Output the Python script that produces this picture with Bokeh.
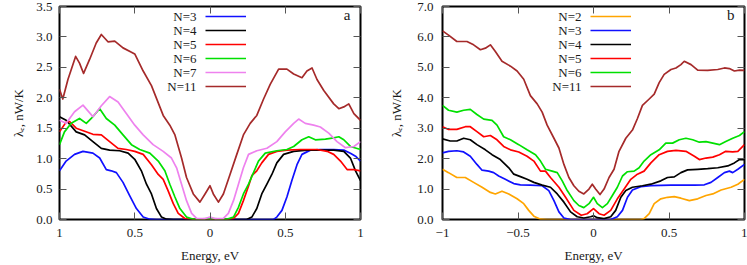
from bokeh.plotting import figure
from bokeh.models import (Range1d, FixedTicker, LinearAxis, Legend, LegendItem,
                          Label, Title, CustomJSTickFormatter, PrintfTickFormatter)
from bokeh.layouts import row
from bokeh.embed import file_html
from bokeh.resources import INLINE

FONT = "Liberation Serif"

# ---------------- panel a ----------------
names_a = ["N=3", "N=4", "N=5", "N=6", "N=7", "N=11"]
colors_a = ["#1010ff", "#000000", "#ff0000", "#00e000", "#ee82ee", "#a52a2a"]

e_a3 = [-1, -0.956, -0.9, -0.844, -0.778, -0.733, -0.689, -0.656, -0.622, -0.578,
        -0.533, -0.489, -0.444, -0.4, -0.356, 0.422, 0.444, 0.478, 0.511, 0.544,
        0.578, 0.611, 0.667, 0.733, 0.822, 0.889, 0.933, 0.967, 1.0]
l_a3 = [0.8, 0.96, 1.07, 1.12, 1.09, 1.01, 0.82, 0.8, 0.77, 0.61,
        0.39, 0.18, 0.04, 0.005, 0, 0, 0.04, 0.15, 0.37, 0.64,
        0.9, 1.07, 1.14, 1.15, 1.15, 1.14, 1.09, 1.04, 0.96]

e_a4 = [-1, -0.956, -0.889, -0.833, -0.778, -0.722, -0.667, -0.6, -0.544, -0.5,
        -0.456, -0.422, -0.389, -0.356, -0.322, -0.289, -0.244, 0.244, 0.278, 0.311,
        0.344, 0.378, 0.411, 0.444, 0.489, 0.556, 0.644, 0.733, 0.822, 0.889,
        0.933, 0.967, 1.0]
l_a4 = [1.69, 1.63, 1.44, 1.39, 1.28, 1.17, 1.14, 1.13, 1.09, 0.99,
        0.8, 0.58, 0.42, 0.18, 0.04, 0.005, 0, 0, 0.04, 0.18,
        0.42, 0.58, 0.74, 0.93, 1.07, 1.12, 1.14, 1.14, 1.14, 1.12,
        1.01, 0.8, 0.64]

e_a5 = [-1, -0.956, -0.933, -0.889, -0.833, -0.778, -0.722, -0.667, -0.611, -0.556,
        -0.5, -0.444, -0.389, -0.344, -0.311, -0.278, -0.244, -0.211, -0.167, -0.089,
        0.111, 0.156, 0.189, 0.222, 0.256, 0.278, 0.311, 0.344, 0.389, 0.444,
        0.511, 0.6, 0.711, 0.778, 0.822, 0.867, 0.911, 0.956, 1.0]
l_a5 = [1.44, 1.6, 1.61, 1.5, 1.45, 1.40, 1.39, 1.28, 1.17, 1.15,
        1.12, 1.07, 0.9, 0.74, 0.66, 0.47, 0.26, 0.1, 0.016, 0,
        0, 0.016, 0.1, 0.31, 0.55, 0.72, 0.8, 0.93, 1.07, 1.12,
        1.14, 1.15, 1.15, 1.12, 1.07, 0.96, 0.82, 0.82, 0.8]

e_a6 = [-1, -0.967, -0.922, -0.867, -0.822, -0.789, -0.733, -0.689, -0.633, -0.578,
        -0.522, -0.467, -0.4, -0.344, -0.3, -0.267, -0.233, -0.2, -0.156, -0.111,
        0, 0.111, 0.156, 0.189, 0.222, 0.256, 0.289, 0.322, 0.367, 0.444,
        0.511, 0.556, 0.611, 0.656, 0.7, 0.767, 0.822, 0.856, 0.889, 0.933, 1.0]
l_a6 = [1.23, 1.44, 1.58, 1.66, 1.58, 1.66, 1.82, 1.66, 1.55, 1.39,
        1.23, 1.15, 1.09, 0.96, 0.8, 0.58, 0.37, 0.18, 0.04, 0.005,
        0.016, 0.005, 0.04, 0.2, 0.42, 0.58, 0.77, 0.96, 1.09, 1.13,
        1.15, 1.2, 1.31, 1.36, 1.31, 1.32, 1.34, 1.36, 1.31, 1.2, 1.15]

e_a7 = [-1, -0.956, -0.9, -0.844, -0.778, -0.722, -0.667, -0.611, -0.556, -0.5,
        -0.444, -0.378, -0.311, -0.256, -0.222, -0.189, -0.156, -0.122, -0.089, -0.033,
        0, 0.033, 0.089, 0.122, 0.156, 0.189, 0.222, 0.256, 0.311, 0.378,
        0.444, 0.5, 0.556, 0.589, 0.633, 0.689, 0.733, 0.789, 0.844, 0.9,
        0.956, 1.0]
l_a7 = [1.63, 1.58, 1.77, 1.88, 1.69, 1.87, 2.02, 1.93, 1.74, 1.55,
        1.39, 1.23, 1.12, 1.01, 0.85, 0.58, 0.31, 0.10, 0.02, 0.016,
        0.04, 0.016, 0.02, 0.1, 0.31, 0.58, 0.85, 1.07, 1.13, 1.17,
        1.28, 1.44, 1.58, 1.65, 1.58, 1.55, 1.52, 1.42, 1.28, 1.18,
        1.2, 1.28]

e_a11 = [-1, -0.978, -0.944, -0.893, -0.867, -0.84, -0.8, -0.756, -0.722, -0.678,
         -0.633, -0.578, -0.522, -0.5, -0.444, -0.389, -0.311, -0.267, -0.233, -0.189,
         -0.156, -0.111, -0.067, -0.033, 0, 0.022, 0.056, 0.089, 0.133, 0.178,
         0.222, 0.267, 0.311, 0.356, 0.4, 0.456, 0.511, 0.556, 0.611, 0.644,
         0.678, 0.711, 0.756, 0.822, 0.856, 0.889, 0.922, 0.956, 1.0]
l_a11 = [2.14, 1.98, 2.3, 2.68, 2.57, 2.40, 2.63, 2.9, 3.04, 2.92,
         2.93, 2.82, 2.75, 2.72, 2.44, 2.2, 1.71, 1.55, 1.39, 1.01,
         0.69, 0.42, 0.285, 0.42, 0.555, 0.42, 0.285, 0.42, 0.74, 1.07,
         1.39, 1.58, 1.71, 1.98, 2.22, 2.47, 2.47, 2.39, 2.33, 2.44,
         2.49, 2.3, 2.12, 1.9, 1.82, 1.85, 1.9, 1.74, 1.63]

# ---------------- panel b ----------------
names_b = ["N=2", "N=3", "N=4", "N=5", "N=6", "N=11"]
colors_b = ["#ffa500", "#1010ff", "#000000", "#ff0000", "#00e000", "#a52a2a"]

e_b2 = [-1, -0.96, -0.905, -0.849, -0.794, -0.738, -0.683, -0.65, -0.606, -0.561,
        -0.506, -0.462, -0.429, -0.395, -0.351, -0.307, 0.313, 0.335, 0.369, 0.402,
        0.446, 0.49, 0.535, 0.579, 0.635, 0.69, 0.745, 0.79, 0.845, 0.911,
        0.956, 1.0]
l_b2 = [1.65, 1.54, 1.38, 1.38, 1.22, 1.06, 0.89, 0.84, 0.93, 0.84,
        0.68, 0.52, 0.3, 0.11, 0.01, 0, 0, 0.03, 0.19, 0.52,
        0.68, 0.73, 0.75, 0.7, 0.62, 0.68, 0.79, 0.84, 0.97, 1.06,
        1.16, 1.32]

e_b3 = [-1, -0.96, -0.905, -0.86, -0.816, -0.772, -0.738, -0.694, -0.661, -0.628,
        -0.584, -0.528, -0.484, -0.418, -0.34, -0.296, -0.262, -0.229, -0.196, -0.152,
        0.114, 0.158, 0.192, 0.225, 0.258, 0.313, 0.38, 0.513, 0.668, 0.734,
        0.778, 0.823, 0.867, 0.9, 0.922, 0.956, 1.0]
l_b3 = [2.19, 2.24, 2.26, 2.22, 2.08, 1.81, 1.62, 1.59, 1.54, 1.43,
        1.32, 1.18, 1.14, 1.13, 1.11, 0.95, 0.62, 0.25, 0.05, 0,
        0, 0.09, 0.3, 0.73, 0.97, 1.08, 1.11, 1.13, 1.13, 1.14,
        1.22, 1.38, 1.54, 1.59, 1.54, 1.65, 1.81]

e_b4 = [-1, -0.949, -0.905, -0.86, -0.816, -0.772, -0.716, -0.672, -0.617, -0.561,
        -0.528, -0.484, -0.44, -0.395, -0.34, -0.285, -0.24, -0.196, -0.152, -0.108,
        -0.064, -0.019, 0, 0.025, 0.07, 0.114, 0.147, 0.181, 0.214, 0.258,
        0.324, 0.38, 0.446, 0.49, 0.535, 0.579, 0.623, 0.69, 0.756, 0.823,
        0.889, 0.933, 0.967, 1.0]
l_b4 = [2.65, 2.58, 2.58, 2.67, 2.62, 2.46, 2.29, 2.13, 1.97, 1.7,
        1.49, 1.41, 1.32, 1.22, 1.13, 1.06, 0.84, 0.57, 0.25, 0.09,
        0.05, 0.09, 0.12, 0.06, 0.03, 0.09, 0.3, 0.73, 0.95, 1.06,
        1.11, 1.16, 1.27, 1.38, 1.4, 1.54, 1.63, 1.65, 1.67, 1.7,
        1.76, 1.86, 1.97, 1.97]

e_b5 = [-1, -0.96, -0.905, -0.849, -0.816, -0.772, -0.727, -0.683, -0.639, -0.595,
        -0.55, -0.495, -0.44, -0.395, -0.351, -0.318, -0.285, -0.229, -0.185, -0.13,
        -0.081, -0.042, 0, 0.037, 0.07, 0.114, 0.158, 0.203, 0.247, 0.291,
        0.335, 0.38, 0.435, 0.49, 0.546, 0.612, 0.668, 0.701, 0.745, 0.79,
        0.834, 0.876, 0.922, 0.956, 1.0]
l_b5 = [3.05, 2.96, 2.96, 3.05, 3.05, 2.89, 2.72, 2.76, 2.62, 2.4,
        2.29, 2.22, 2.08, 1.92, 1.59, 1.59, 1.38, 1.06, 0.73, 0.3,
        0.14, 0.19, 0.36, 0.19, 0.14, 0.3, 0.68, 1.0, 1.32, 1.49,
        1.59, 1.86, 2.13, 2.24, 2.27, 2.24, 2.08, 1.97, 2.02, 2.05,
        2.13, 2.24, 2.22, 2.24, 2.46]

e_b6 = [-1, -0.96, -0.905, -0.86, -0.816, -0.772, -0.727, -0.672, -0.639, -0.595,
        -0.55, -0.495, -0.44, -0.384, -0.351, -0.318, -0.274, -0.24, -0.207, -0.174,
        -0.13, -0.097, -0.064, -0.03, 0, 0.025, 0.059, 0.092, 0.125, 0.158,
        0.192, 0.225, 0.269, 0.302, 0.335, 0.38, 0.435, 0.479, 0.524, 0.568,
        0.612, 0.657, 0.701, 0.745, 0.79, 0.834, 0.876, 0.922, 0.967, 1.0]
l_b6 = [3.75, 3.59, 3.53, 3.59, 3.62, 3.45, 3.3, 3.26, 3.1, 2.72,
        2.62, 2.46, 2.29, 2.13, 1.92, 1.65, 1.59, 1.54, 1.27, 0.95,
        0.62, 0.46, 0.39, 0.52, 0.73, 0.52, 0.39, 0.52, 0.79, 1.06,
        1.43, 1.57, 1.59, 1.7, 1.92, 2.13, 2.29, 2.51, 2.51, 2.62,
        2.67, 2.62, 2.54, 2.56, 2.51, 2.46, 2.56, 2.67, 2.76, 2.89]

e_b11 = [-1, -0.96, -0.905, -0.838, -0.794, -0.749, -0.716, -0.683, -0.65, -0.606,
         -0.55, -0.506, -0.462, -0.418, -0.373, -0.34, -0.307, -0.262, -0.229, -0.196,
         -0.163, -0.13, -0.097, -0.064, -0.03, -0.008, 0.014, 0.043, 0.07, 0.103,
         0.136, 0.169, 0.214, 0.258, 0.291, 0.324, 0.369, 0.402, 0.435, 0.468,
         0.513, 0.546, 0.579, 0.601, 0.646, 0.69, 0.756, 0.823, 0.867, 0.9,
         0.933, 0.967, 1.0]
l_b11 = [6.2, 6.06, 5.85, 5.85, 5.74, 5.58, 5.63, 5.74, 5.52, 5.2,
         5.04, 4.88, 4.61, 4.07, 3.8, 3.53, 3.1, 2.67, 2.35, 1.81,
         1.38, 1.11, 0.93, 0.84, 1.0, 1.16, 1.0, 0.82, 1.0, 1.38,
         1.65, 2.24, 2.67, 2.94, 3.32, 3.75, 3.96, 4.12, 4.5, 4.77,
         4.93, 4.98, 5.09, 5.2, 5.09, 4.91, 4.9, 4.93, 4.98, 4.96,
         4.88, 4.91, 4.9]

# ticks
xticks = [-1, -0.5, 0, 0.5, 1]
xtick_labels_a = ["1", "0.5", "0", "0.5", "1"]
xtick_labels_b = ["\u22121", "\u22120.5", "0", "0.5", "1"]
yticks_a = [0, 0.5, 1.0, 1.5, 2.0, 2.5, 3.0, 3.5]
yticks_b = [0, 1, 2, 3, 4, 5, 6, 7]

x_label = "Energy, eV"
y_label = "\u03bb\u2091, nW/K"

TEXT_COLOR = "#1a1a1a"
TICK_COLOR = "#555555"
H = 265
TOP, BOTTOM = 6, 42
FRAME_H = H - TOP - BOTTOM


def style_axis(ax, ticks, labeled, standoff=6, label_standoff=10):
    ax.ticker = FixedTicker(ticks=ticks)
    ax.axis_line_color = None
    ax.major_tick_in = 7
    ax.major_tick_out = 0
    ax.major_tick_line_color = TICK_COLOR
    ax.major_tick_line_width = 1
    ax.minor_tick_line_color = None
    if labeled:
        ax.major_label_text_font = FONT
        ax.major_label_text_font_size = "13px"
        ax.major_label_text_color = TEXT_COLOR
        ax.major_label_standoff = standoff
        ax.axis_label_text_font = FONT
        ax.axis_label_text_font_size = "13px"
        ax.axis_label_text_font_style = "normal"
        ax.axis_label_text_color = TEXT_COLOR
        ax.axis_label_standoff = label_standoff
    else:
        ax.formatter = CustomJSTickFormatter(code="return ''")
        ax.major_label_text_font_size = "0px"
        ax.major_label_standoff = 0


def make_panel(es, ls, names, colors, ymax, yticks, xlabels, tag, width,
               border_left, border_right, y_standoff, y_title_standoff,
               legend_x, tag_x):
    p = figure(width=width, height=H, x_range=Range1d(-1, 1),
               y_range=Range1d(0, ymax), output_backend="svg",
               toolbar_location=None, min_border_left=border_left,
               min_border_right=border_right, min_border_top=TOP,
               min_border_bottom=BOTTOM)
    p.grid.visible = False
    p.outline_line_color = "black"
    p.outline_line_width = 2
    p.outline_line_alpha = 1.0
    p.background_fill_color = "white"
    p.border_fill_color = "white"

    xa = p.xaxis[0]
    style_axis(xa, xticks, True, standoff=9, label_standoff=8)
    xa.axis_label = x_label
    xa.major_label_overrides = {t: s for t, s in zip(xticks, xlabels)}

    ya = p.yaxis[0]
    style_axis(ya, yticks, True, standoff=y_standoff)
    ya.formatter = PrintfTickFormatter(format="%.1f")

    # y-axis title
    p.add_layout(Title(text=y_label, align="center", offset=9,
                       standoff=y_title_standoff, text_font=FONT,
                       text_font_size="13px", text_font_style="normal",
                       text_color=TEXT_COLOR), "left")

    top_ax = LinearAxis()
    style_axis(top_ax, xticks, False)
    p.add_layout(top_ax, "above")
    right_ax = LinearAxis()
    style_axis(right_ax, yticks, False)
    p.add_layout(right_ax, "right")

    items = []
    for e, l, c in zip(es, ls, colors):
        r = p.line(e, l, line_color=c, line_width=1.7, line_join="round")
        items.append(LegendItem(label=" ", renderers=[r]))

    n = len(items)
    row_h = 14
    first_center = 14.3
    leg_top = first_center - row_h / 2
    legend = Legend(items=items, location=(legend_x, FRAME_H - leg_top - n * row_h),
                    orientation="vertical", glyph_width=41, glyph_height=row_h,
                    label_height=row_h, label_width=1, label_standoff=0,
                    label_text_font_size="1px", spacing=0, padding=0, margin=0,
                    border_line_color=None, background_fill_alpha=0.0)
    p.add_layout(legend, "center")

    for i, name in enumerate(names):
        p.add_layout(Label(x=legend_x - 9, y=FRAME_H - (first_center + row_h * i),
                           x_units="screen", y_units="screen", text=name,
                           text_align="right", text_baseline="middle",
                           text_font=FONT, text_font_size="13px",
                           text_color=TEXT_COLOR))

    p.add_layout(Label(x=tag_x, y=FRAME_H - 12, x_units="screen", y_units="screen",
                       text=tag, text_align="right", text_baseline="middle",
                       text_font=FONT, text_font_size="15px", text_color=TEXT_COLOR))
    return p


pa = make_panel([e_a3, e_a4, e_a5, e_a6, e_a7, e_a11],
                [l_a3, l_a4, l_a5, l_a6, l_a7, l_a11],
                names_a, colors_a, 3.5, yticks_a, xtick_labels_a, "a",
                375, 59, 15, 7, 16, 146, 291)
pb = make_panel([e_b2, e_b3, e_b4, e_b5, e_b6, e_b11],
                [l_b2, l_b3, l_b4, l_b5, l_b6, l_b11],
                names_b, colors_b, 7.0, yticks_b, xtick_labels_b, "b",
                372, 67, 3, 9, 21, 148, 292)

layout = row(pa, pb)
open("out.html", "w").write(file_html(layout, INLINE))
